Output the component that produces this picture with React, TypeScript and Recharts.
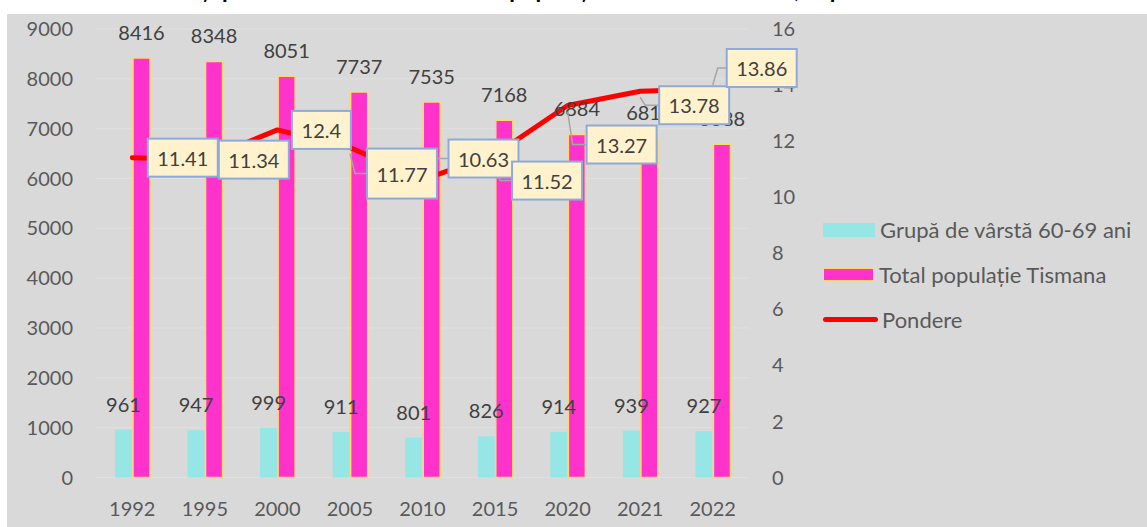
import React from 'react';
import {
  ComposedChart,
  Bar,
  Line,
  XAxis,
  YAxis,
  CartesianGrid,
  LabelList,
  Legend,
} from 'recharts';

// ---------- data ----------
const years = ['1992', '1995', '2000', '2005', '2010', '2015', '2020', '2021', '2022'];
const group6069 = [961, 947, 999, 911, 801, 826, 914, 939, 927];
const totalPop = [8416, 8348, 8051, 7737, 7535, 7168, 6884, 6814, 6688];
const pondere = [11.41, 11.34, 12.4, 11.77, 10.63, 11.52, 13.27, 13.78, 13.86];
const leftTicks = [0, 1000, 2000, 3000, 4000, 5000, 6000, 7000, 8000, 9000];
const rightTicks = [0, 2, 4, 6, 8, 10, 12, 14, 16];
const nameGroup = 'Grupă de vârstă 60-69 ani';
const nameTotal = 'Total populație Tismana';
const namePondere = 'Pondere';
const titleText =
  'Evoluția grupei de vârstă 60-69 ani și ponderea acesteia în totalul populației comunei Tismana, în perioada 1992-2022';

// ---------- layout (label placement, not data) ----------
const labelOffsets: [number, number][] = [
  [50.5, 0],
  [49, 0],
  [44, 0],
  [52, 26],
  [61, -21],
  [52, 26],
  [54, 39],
  [54, 14],
  [49, -21],
];
const labelBoxHeights = [38, 38, 38, 50, 38, 38, 38, 38, 38];

const COLORS = {
  cyan: '#95e6e4',
  magenta: '#ff33cc',
  gold: '#ffd966',
  red: '#ff0000',
  bg: '#d9d9d9',
  grid: '#e0e0e0',
  tick: '#595959',
  label: '#404040',
  boxFill: '#fff2cc',
  boxStroke: '#8eaadb',
  leader: '#a6a6a6',
};

const data = years.map((y, i) => ({
  year: y,
  group: group6069[i],
  total: totalPop[i],
  pondere: pondere[i],
}));

const idxOf = (props: any) =>
  typeof props.index === 'number' ? props.index : pondere.indexOf(Number(props.value));

const LeaderLabel = (props: any) => {
  const i = idxOf(props);
  const { x, y } = props;
  if (i < 0 || x == null || y == null) return null;
  const [dx, dy] = labelOffsets[i];
  if (Math.abs(dy) < 5) return null;
  const txt = String(props.value);
  const w = txt.length * 11 + 15;
  const bx = x + dx - w / 2;
  const by = y + dy;
  return (
    <polyline
      points={`${bx},${by} ${x + 5},${by} ${x},${y + (dy > 0 ? 6 : -4)}`}
      fill="none"
      stroke={COLORS.leader}
      strokeWidth={1.5}
    />
  );
};

const BoxLabel = (props: any) => {
  const i = idxOf(props);
  const { x, y } = props;
  if (i < 0 || x == null || y == null) return null;
  const [dx, dy] = labelOffsets[i];
  const txt = String(props.value);
  const w = txt.length * 11 + 15;
  const h = labelBoxHeights[i];
  const cx = x + dx;
  const cy = y + dy;
  return (
    <g>
      <rect
        x={cx - w / 2}
        y={cy - h / 2}
        width={w}
        height={h}
        fill={COLORS.boxFill}
        stroke={COLORS.boxStroke}
        strokeWidth={2}
      />
      <text
        x={cx}
        y={cy}
        textAnchor="middle"
        dominantBaseline="central"
        fontSize={20}
        fill={COLORS.label}
      >
        {txt}
      </text>
    </g>
  );
};

const LegendContent = () => {
  const row: React.CSSProperties = {
    height: 45,
    display: 'flex',
    alignItems: 'center',
    fontSize: 22,
    color: COLORS.tick,
    whiteSpace: 'nowrap',
  };
  return (
    <div>
      <div style={row}>
        <div style={{ width: 52, height: 14, background: COLORS.cyan, marginRight: 5 }} />
        <span>{nameGroup}</span>
      </div>
      <div style={row}>
        <div
          style={{
            width: 49,
            height: 11,
            background: COLORS.magenta,
            border: `1.5px solid ${COLORS.gold}`,
            marginRight: 5,
          }}
        />
        <span>{nameTotal}</span>
      </div>
      <div style={row}>
        <div
          style={{
            width: 55,
            height: 5,
            background: COLORS.red,
            borderRadius: 3,
            marginRight: 4,
          }}
        />
        <span>{namePondere}</span>
      </div>
    </div>
  );
};

export default function App() {
  return (
    <div
      style={{
        position: 'absolute',
        left: 0,
        top: 0,
        width: 1147,
        height: 527,
        overflow: 'hidden',
        background: '#ffffff',
        fontFamily: 'Lato, "Open Sans", sans-serif',
      }}
    >
      <div
        style={{
          position: 'absolute',
          right: 107,
          top: -23,
          textAlign: 'right',
          fontWeight: 700,
          fontSize: 23,
          lineHeight: '24px',
          color: '#000',
          whiteSpace: 'nowrap',
        }}
      >
        {titleText}
      </div>
      <div
        style={{
          position: 'absolute',
          left: 7,
          top: 14,
          width: 1140,
          height: 513,
          background: COLORS.bg,
        }}
      >
        <ComposedChart
          width={1140}
          height={513}
          data={data}
          margin={{ top: 15, right: 338, bottom: 19.5, left: 0 }}
          barGap={1}
          barCategoryGap="25%"
        >
          <CartesianGrid yAxisId="left" vertical={false} stroke={COLORS.grid} />
          <XAxis
            dataKey="year"
            axisLine={false}
            tickLine={false}
            tickSize={0}
            tickMargin={24}
            height={30}
            tick={{ fill: COLORS.tick, fontSize: 20 }}
          />
          <YAxis
            yAxisId="left"
            domain={[0, 9000]}
            ticks={leftTicks}
            interval={0}
            width={89}
            axisLine={false}
            tickLine={false}
            tickSize={0}
            tickMargin={23}
            tick={{ fill: COLORS.tick, fontSize: 20 }}
          />
          <YAxis
            yAxisId="right"
            orientation="right"
            domain={[0, 16]}
            ticks={rightTicks}
            interval={0}
            width={60}
            axisLine={false}
            tickLine={false}
            tickSize={0}
            tickMargin={23}
            tick={{ fill: COLORS.tick, fontSize: 20, textAnchor: 'start' }}
          />
          <Legend
            layout="vertical"
            align="center"
            verticalAlign="middle"
            wrapperStyle={{ left: 816, top: 193, width: 324 }}
            content={LegendContent}
          />
          <Bar
            yAxisId="left"
            dataKey="group"
            name={nameGroup}
            fill={COLORS.cyan}
            barSize={17}
            isAnimationActive={false}
          >
            <LabelList dataKey="group" position="top" offset={18} fill={COLORS.label} fontSize={20} />
          </Bar>
          <Bar
            yAxisId="left"
            dataKey="total"
            name={nameTotal}
            fill={COLORS.magenta}
            stroke={COLORS.gold}
            strokeWidth={1.5}
            barSize={17}
            isAnimationActive={false}
          >
            <LabelList dataKey="total" position="top" offset={18} fill={COLORS.label} fontSize={20} />
          </Bar>
          <Line
            yAxisId="right"
            dataKey="pondere"
            name={namePondere}
            stroke={COLORS.red}
            strokeWidth={5}
            strokeLinecap="round"
            strokeLinejoin="round"
            dot={false}
            activeDot={false}
            isAnimationActive={false}
          >
            <LabelList dataKey="pondere" content={LeaderLabel} />
            <LabelList dataKey="pondere" content={BoxLabel} />
          </Line>
        </ComposedChart>
      </div>
    </div>
  );
}
